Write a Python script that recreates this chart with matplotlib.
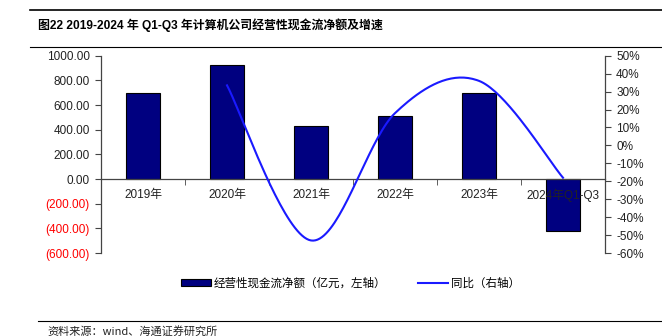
import matplotlib.pyplot as plt
import numpy as np
from matplotlib.lines import Line2D
from matplotlib.patches import Patch
from matplotlib import font_manager

plt.rcParams['font.family'] = ['Liberation Sans', 'Noto Sans CJK SC', 'DejaVu Sans']

# 经营性现金流净额（亿元）与同比增速（%）
years = ['2019年', '2020年', '2021年', '2022年', '2023年', '2024年Q1-Q3']
cash_flow = [700, 928, 434, 509, 698, -418]
yoy = [np.nan, 33.5, -53, 18, 36, -18]


def smooth_curve(xs, ys, n=40):
    # 类似 Excel 平滑线：Catmull-Rom 控制点的三次贝塞尔
    pts = np.column_stack([xs, ys])
    out = []
    for i in range(len(pts) - 1):
        p0 = pts[i - 1] if i > 0 else pts[i]
        p1, p2 = pts[i], pts[i + 1]
        p3 = pts[i + 2] if i + 2 < len(pts) else pts[i + 1]
        c1 = p1 + (p2 - p0) / 6
        c2 = p2 - (p3 - p1) / 6
        t = np.linspace(0, 1, n)[:, None]
        seg = ((1 - t) ** 3 * p1 + 3 * (1 - t) ** 2 * t * c1
               + 3 * (1 - t) * t ** 2 * c2 + t ** 3 * p2)
        out.append(seg if i == 0 else seg[1:])
    curve = np.vstack(out)
    return curve[:, 0], curve[:, 1]


installed = {f.name for f in font_manager.fontManager.ttflist}
title_fonts = [f for f in ['Liberation Sans Narrow', 'Liberation Sans'] if f in installed]

fig = plt.figure(figsize=(6.62, 3.36), dpi=100)
ax = fig.add_axes([0.1526, 0.247, 0.7613, 0.587])
x = np.arange(len(years))

ax.bar(x, cash_flow, width=0.4, color='#000080', edgecolor='black', linewidth=0.8, zorder=1)
ax.set_xlim(-0.5, len(years) - 0.5)
ax.set_ylim(-600, 1000)
ax.set_yticks(np.arange(-600, 1001, 200))
ax.set_yticklabels([f'({abs(v):.2f})' if v < 0 else f'{v:.2f}' for v in np.arange(-600, 1001, 200)])
for lbl, v in zip(ax.get_yticklabels(), np.arange(-600, 1001, 200)):
    lbl.set_color('red' if v < 0 else '#222222')

ax.spines['top'].set_visible(False)
ax.spines['right'].set_visible(False)
ax.spines['bottom'].set_position(('data', 0))
for s in ['left', 'bottom']:
    ax.spines[s].set_color('#444444')
    ax.spines[s].set_linewidth(0.9)

ax.set_xticks(x)
ax.set_xticklabels(years)
ax.set_xticks(np.arange(-0.5, len(years), 1), minor=True)
ax.tick_params(axis='x', which='major', length=0, pad=7, labelsize=8.5, labelcolor='#222222')
ax.tick_params(axis='x', which='minor', length=4, direction='out', color='#444444')
ax.tick_params(axis='y', length=4, labelsize=8.5, color='#444444', pad=4)

ax2 = ax.twinx()
mask = ~np.isnan(yoy)
cx, cy = smooth_curve(x[mask], np.array(yoy)[mask])
ax2.plot(cx, cy, color='#1a1aff', linewidth=1.5)
ax2.set_ylim(-60, 50)
ax2.set_yticks(np.arange(-60, 51, 10))
ax2.set_yticklabels([f'{v}%' for v in np.arange(-60, 51, 10)])
ax2.tick_params(axis='y', length=4, labelsize=8.5, color='#444444', labelcolor='#222222', pad=4)
for s in ['top', 'left', 'bottom']:
    ax2.spines[s].set_visible(False)
ax2.spines['right'].set_color('#444444')
ax2.spines['right'].set_linewidth(0.9)

handles = [Patch(facecolor='#000080', edgecolor='black', linewidth=0.8),
           Line2D([], [], color='#1a1aff', linewidth=1.5)]
labels = ['经营性现金流净额（亿元，左轴）', '同比（右轴）']
fig.legend(handles, labels, loc='center left', bbox_to_anchor=(0.258, 0.157), ncol=2,
           frameon=False, handlelength=2.6, handleheight=0.6,
           handletextpad=0.25, columnspacing=2.7,
           prop={'family': ['Noto Sans CJK SC'], 'size': 8.3})

# 标题与来源
fig.add_artist(Line2D([0.045, 1.0], [1 - 10 / 336] * 2, color='black', linewidth=1.2))
fig.add_artist(Line2D([0.045, 1.0], [1 - 47 / 336] * 2, color='black', linewidth=0.8))
fig.text(0.057, 1 - 25 / 336, '图22 2019-2024 年 Q1-Q3 年计算机公司经营性现金流净额及增速',
         fontsize=8.6, fontweight='bold', va='center', ha='left',
         family=title_fonts + ['Noto Sans CJK SC'])
fig.add_artist(Line2D([0.057, 1.0], [1 - 321 / 336] * 2, color='black', linewidth=0.8))
fig.text(0.072, 1 - 331 / 336, '资料来源：wind、海通证券研究所', fontsize=8, va='center', ha='left',
         color='#222222', family=['Noto Sans CJK SC'])

fig.savefig('out.png', dpi=100)
